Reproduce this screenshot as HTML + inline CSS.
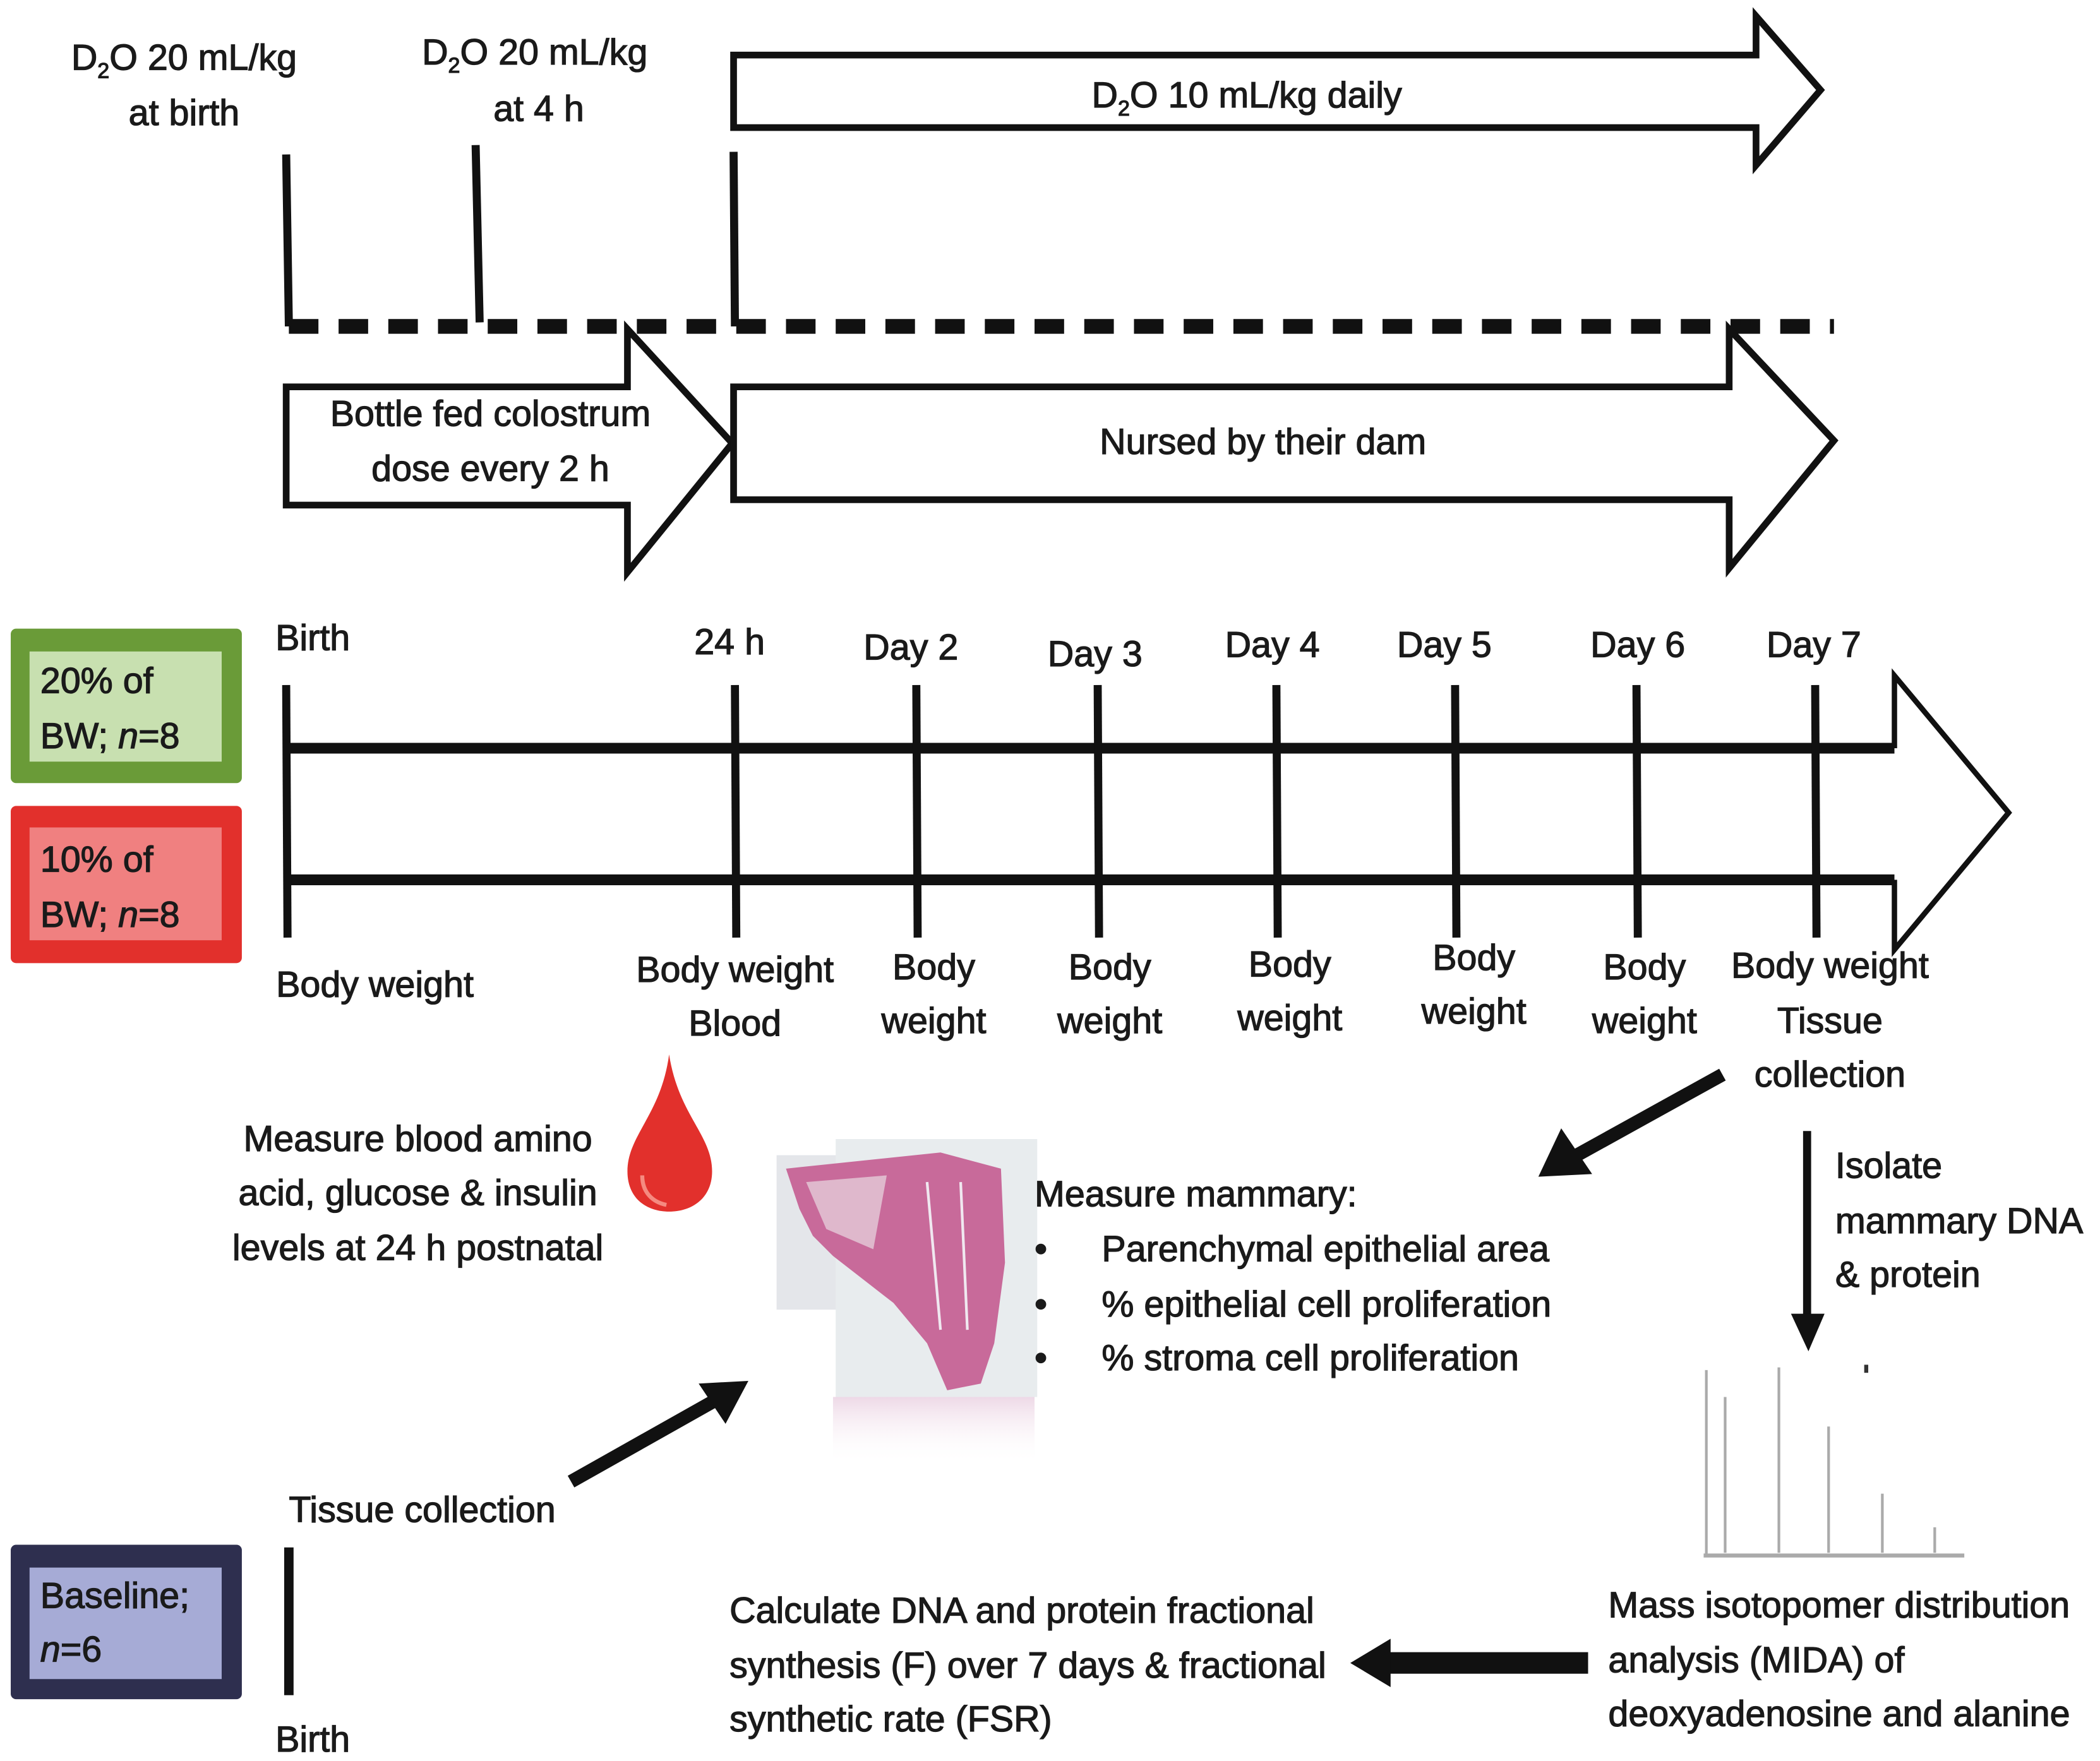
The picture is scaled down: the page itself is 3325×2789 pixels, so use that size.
<!DOCTYPE html>
<html><head><meta charset="utf-8"><style>
html,body{margin:0;padding:0;background:#fff;}
svg{display:block;}
text{font-family:"Liberation Sans Narrow","Liberation Sans",sans-serif;font-size:27px;fill:#1a1a1a;stroke:#1a1a1a;stroke-width:0.6px;}
</style></head><body>
<svg width="3325" height="2789" viewBox="0 0 1563 1311" preserveAspectRatio="none" xmlns="http://www.w3.org/2000/svg">
<defs>
<linearGradient id="fade" x1="0" y1="0" x2="0" y2="1">
<stop offset="0" stop-color="#e6c8dc" stop-opacity="0.7"/><stop offset="1" stop-color="#fff" stop-opacity="0"/>
</linearGradient>
</defs>
<text x="137" y="52" text-anchor="middle">D<tspan font-size="16" dy="6">2</tspan><tspan dy="-6">O 20 mL/kg</tspan></text>
<text x="137" y="93" text-anchor="middle">at birth</text>
<text x="398" y="48" text-anchor="middle">D<tspan font-size="16" dy="6">2</tspan><tspan dy="-6">O 20 mL/kg</tspan></text>
<text x="401" y="90" text-anchor="middle">at 4 h</text>
<polygon points="546,41 1307,41 1307,12 1355,67 1307,123 1307,95 546,95" fill="#fff" stroke="#111" stroke-width="5" stroke-linejoin="miter"/>
<text x="928" y="80" text-anchor="middle">D<tspan font-size="16" dy="6">2</tspan><tspan dy="-6">O 10 mL/kg daily</tspan></text>
<line x1="213" y1="115" x2="215" y2="243" stroke="#111" stroke-width="6"/>
<line x1="354" y1="108" x2="357" y2="240" stroke="#111" stroke-width="6"/>
<line x1="546" y1="113" x2="547" y2="243" stroke="#111" stroke-width="6"/>
<line x1="215" y1="243" x2="1365" y2="243" stroke="#111" stroke-width="11" stroke-dasharray="22,15"/>
<polygon points="213,288 467,288 467,245 545,330 467,426 467,376 213,376" fill="#fff" stroke="#111" stroke-width="5"/>
<text x="365" y="317" text-anchor="middle">Bottle fed colostrum</text>
<text x="365" y="358" text-anchor="middle">dose every 2 h</text>
<polygon points="546,288 1287,288 1287,245 1365,328 1287,423 1287,372 546,372" fill="#fff" stroke="#111" stroke-width="5"/>
<text x="940" y="338" text-anchor="middle">Nursed by their dam</text>
<rect x="8" y="468" width="172" height="115" rx="4" fill="#6a9b38"/>
<rect x="22" y="485" width="143" height="82" fill="#c8e0b0"/>
<text x="30" y="516">20% of</text>
<text x="30" y="557">BW; <tspan font-style="italic">n</tspan>=8</text>
<rect x="8" y="600" width="172" height="117" rx="4" fill="#e2302c"/>
<rect x="22" y="616" width="143" height="84" fill="#f08080"/>
<text x="30" y="649">10% of</text>
<text x="30" y="690">BW; <tspan font-style="italic">n</tspan>=8</text>
<line x1="213" y1="557" x2="1410" y2="557" stroke="#111" stroke-width="8"/>
<line x1="213" y1="655" x2="1410" y2="655" stroke="#111" stroke-width="8"/>
<polyline points="1410,557 1410,503 1495,605 1410,707 1410,655" fill="none" stroke="#111" stroke-width="4"/>
<g stroke="#111" stroke-width="6">
<line x1="213" y1="510" x2="214" y2="698"/>
<line x1="547" y1="510" x2="548" y2="698"/>
<line x1="682" y1="510" x2="683" y2="698"/>
<line x1="817" y1="510" x2="818" y2="698"/>
<line x1="950" y1="510" x2="951" y2="698"/>
<line x1="1083" y1="510" x2="1084" y2="698"/>
<line x1="1218" y1="510" x2="1219" y2="698"/>
<line x1="1351" y1="510" x2="1352" y2="698"/>
</g>
<text x="205" y="484">Birth</text>
<text x="543" y="487" text-anchor="middle">24 h</text>
<text x="678" y="491" text-anchor="middle">Day 2</text>
<text x="815" y="496" text-anchor="middle">Day 3</text>
<text x="947" y="489" text-anchor="middle">Day 4</text>
<text x="1075" y="489" text-anchor="middle">Day 5</text>
<text x="1219" y="489" text-anchor="middle">Day 6</text>
<text x="1350" y="489" text-anchor="middle">Day 7</text>
<g text-anchor="middle">
<text x="279" y="742">Body weight</text>
<text x="547" y="731">Body weight</text><text x="547" y="771">Blood</text>
<text x="695" y="729">Body</text><text x="695" y="769">weight</text>
<text x="826" y="729">Body</text><text x="826" y="769">weight</text>
<text x="960" y="727">Body</text><text x="960" y="767">weight</text>
<text x="1097" y="722">Body</text><text x="1097" y="762">weight</text>
<text x="1224" y="729">Body</text><text x="1224" y="769">weight</text>
<text x="1362" y="728">Body weight</text><text x="1362" y="769">Tissue</text><text x="1362" y="809">collection</text>
</g>
<line x1="1282" y1="800" x2="1170" y2="862" stroke="#111" stroke-width="10"/>
<polygon points="1145,876 1162,840 1185,874" fill="#111"/>
<path d="M498,785 C505,830 530,845 530,872 C530,892 515,902 498,902 C481,902 467,892 467,872 C467,845 492,830 498,785 Z" fill="#e2302c"/>
<path d="M478,875 C478,888 486,895 496,897" fill="none" stroke="#f58a80" stroke-width="3"/>
<g text-anchor="middle">
<text x="311" y="857">Measure blood amino</text>
<text x="311" y="897">acid, glucose &amp; insulin</text>
<text x="311" y="938">levels at 24 h postnatal</text>
</g>
<rect x="578" y="860" width="45" height="115" fill="#e4e6ea"/>
<rect x="622" y="848" width="150" height="192" fill="#e8ecee"/>
<rect x="620" y="1040" width="150" height="50" fill="url(#fade)"/>
<path d="M585,870 L700,858 L745,870 L748,940 L740,1000 L730,1030 L705,1035 L690,1000 L665,970 L620,935 L605,920 L595,900 Z" fill="#c86a9a"/>
<path d="M600,880 L660,875 L650,930 L615,915 Z" fill="#dfb8cc"/>
<path d="M690,880 L700,990 M715,880 L720,990" stroke="#f0e8f0" stroke-width="2"/>
<text x="770" y="898">Measure mammary:</text>
<text x="770" y="939">•</text><text x="820" y="939">Parenchymal epithelial area</text>
<text x="770" y="980">•</text><text x="820" y="980">% epithelial cell proliferation</text>
<text x="770" y="1020">•</text><text x="820" y="1020">% stroma cell proliferation</text>
<line x1="1345" y1="842" x2="1345" y2="985" stroke="#111" stroke-width="6"/>
<polygon points="1333,978 1358,978 1346,1006" fill="#111"/>
<text x="1366" y="877">Isolate</text>
<text x="1366" y="918">mammary DNA</text>
<text x="1366" y="958">&amp; protein</text>
<g stroke="#aaa" stroke-width="2">
<line x1="1270" y1="1020" x2="1270" y2="1158"/>
<line x1="1268" y1="1158" x2="1462" y2="1158" stroke-width="3"/>
<line x1="1284" y1="1040" x2="1284" y2="1156"/>
<line x1="1324" y1="1018" x2="1324" y2="1156"/>
<line x1="1361" y1="1062" x2="1361" y2="1156"/>
<line x1="1401" y1="1112" x2="1401" y2="1156"/>
<line x1="1440" y1="1137" x2="1440" y2="1156"/>
</g>
<line x1="1389" y1="1016" x2="1389" y2="1022" stroke="#333" stroke-width="3"/>
<line x1="425" y1="1103" x2="535" y2="1041" stroke="#111" stroke-width="10"/>
<polygon points="557,1028 520,1030 540,1060" fill="#111"/>
<text x="215" y="1133">Tissue collection</text>
<rect x="8" y="1150" width="172" height="115" rx="4" fill="#2e2f4f"/>
<rect x="22" y="1167" width="143" height="83" fill="#a6abd6"/>
<text x="30" y="1197">Baseline;</text>
<text x="30" y="1237" font-style="italic">n<tspan font-style="normal">=6</tspan></text>
<line x1="215" y1="1152" x2="215" y2="1262" stroke="#111" stroke-width="7"/>
<text x="205" y="1304">Birth</text>
<text x="543" y="1208">Calculate DNA and protein fractional</text>
<text x="543" y="1249">synthesis (F) over 7 days &amp; fractional</text>
<text x="543" y="1289">synthetic rate (FSR)</text>
<line x1="1182" y1="1238" x2="1030" y2="1238" stroke="#111" stroke-width="16"/>
<polygon points="1005,1238 1035,1220 1035,1256" fill="#111"/>
<text x="1197" y="1204">Mass isotopomer distribution</text>
<text x="1197" y="1245">analysis (MIDA) of</text>
<text x="1197" y="1285">deoxyadenosine and alanine</text>
</svg>
</body></html>
